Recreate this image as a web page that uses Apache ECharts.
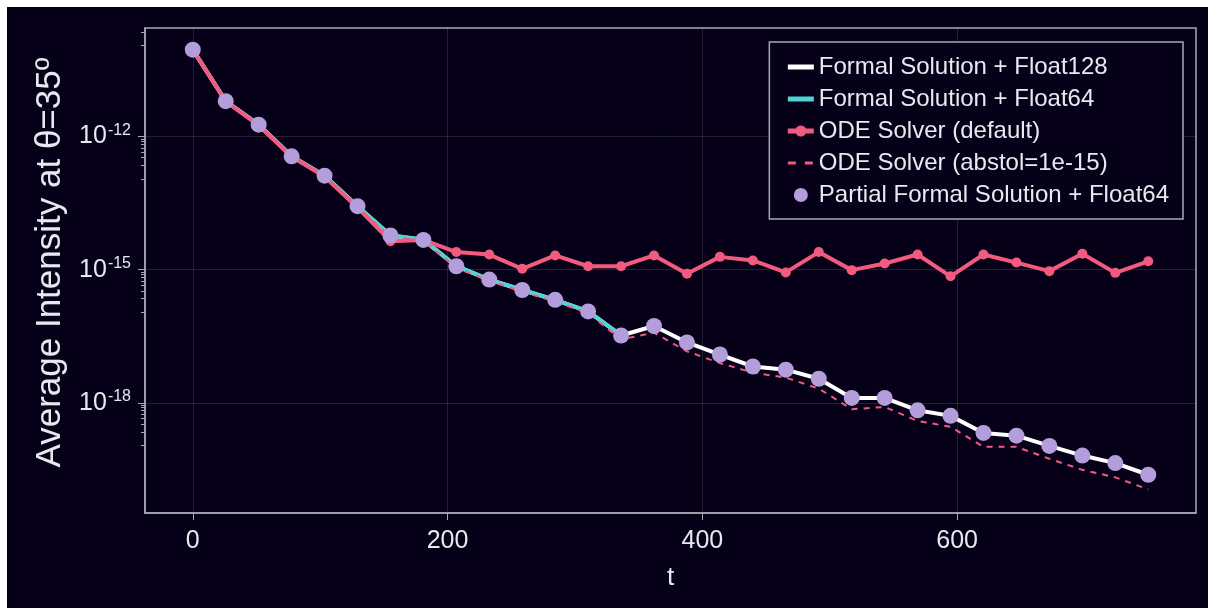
<!DOCTYPE html>
<html>
<head>
<meta charset="utf-8">
<script src="https://cdn.jsdelivr.net/npm/echarts@6/dist/echarts.min.js"></script>
<style>
  html, body { margin: 0; padding: 0; background: #ffffff; }
  #chart { position: absolute; left: 7px; top: 7px; width: 1201px; height: 601px; }
</style>
</head>
<body>
<div id="chart"></div>
<script>
// time samples
var tValues = [0, 25.86, 51.72, 77.59, 103.45, 129.31, 155.17, 181.03, 206.9, 232.76,
  258.62, 284.48, 310.34, 336.21, 362.07, 387.93, 413.79, 439.66, 465.52, 491.38,
  517.24, 543.1, 568.97, 594.83, 620.69, 646.55, 672.41, 698.28, 724.14, 750];

var float128 = [9.1e-11, 6.3e-12, 1.86e-12, 3.6e-13, 1.32e-13, 2.7e-14, 5.9e-15, 4.7e-15, 1.2e-15, 6.0e-16,
  3.5e-16, 2.1e-16, 1.15e-16, 3.3e-17, 5.4e-17, 2.3e-17, 1.23e-17, 6.6e-18, 5.6e-18, 3.5e-18,
  1.29e-18, 1.29e-18, 6.8e-19, 5.1e-19, 2.1e-19, 1.82e-19, 1.07e-19, 6.5e-20, 4.4e-20, 2.4e-20];

// Float64 formal solution stops after t≈336
var float64 = [9.1e-11, 6.3e-12, 1.86e-12, 3.6e-13, 1.32e-13, 2.7e-14, 6.0e-15, 4.8e-15, 1.2e-15, 6.0e-16,
  3.5e-16, 2.1e-16, 1.15e-16, 3.3e-17];

var odeDefault = [9.1e-11, 6.2e-12, 1.78e-12, 3.5e-13, 1.26e-13, 2.5e-14, 4.4e-15, 4.7e-15, 2.5e-15, 2.2e-15,
  1.05e-15, 2.1e-15, 1.2e-15, 1.2e-15, 2.1e-15, 8.1e-16, 1.95e-15, 1.62e-15, 8.7e-16, 2.5e-15,
  9.8e-16, 1.38e-15, 2.2e-15, 7.1e-16, 2.2e-15, 1.45e-15, 9.3e-16, 2.3e-15, 8.5e-16, 1.55e-15];

var odeAbstol = [9.0e-11, 6.2e-12, 1.8e-12, 3.5e-13, 1.28e-13, 2.6e-14, 5.6e-15, 4.5e-15, 1.1e-15, 5.6e-16,
  3.2e-16, 1.9e-16, 1.05e-16, 2.7e-17, 3.8e-17, 1.45e-17, 7.9e-18, 4.8e-18, 3.7e-18, 2.1e-18,
  7.2e-19, 8.1e-19, 3.9e-19, 2.9e-19, 1.02e-19, 1.02e-19, 5.5e-20, 3.1e-20, 2.1e-20, 1.12e-20];

var partial = float128;

var xTicks = [0, 200, 400, 600];
var yTicks = [1e-18, 1e-15, 1e-12];
var yMin = 3.3e-21, yMax = 2.8e-10;

// minor ticks: 8 linear steps between neighbouring major ticks
var yMinorTicks = [];
[1e-21, 1e-18, 1e-15, 1e-12].forEach(function (lo) {
  var hi = lo * 1000;
  for (var k = 1; k < 9; k++) {
    var v = lo + k * (hi - lo) / 9;
    if (v > yMin && v < yMax) yMinorTicks.push(v);
  }
});

function pairs(vals) {
  return vals.map(function (v, i) { return [tValues[i], v]; });
}

var bg = '#060119';
var fg = '#e8e8ee';
var axisGray = '#a9a7b2';
var gridGray = 'rgba(255,255,255,0.12)';
var pink = '#f25a7e';
var font = '"Liberation Sans", "DejaVu Sans", sans-serif';

var chart = echarts.init(document.getElementById('chart'));
chart.setOption({
  backgroundColor: bg,
  animation: false,
  textStyle: { fontFamily: font },
  grid: {
    left: 138, right: 12, top: 21, bottom: 95, containLabel: false,
    show: true, borderColor: axisGray, borderWidth: 1.5, backgroundColor: 'transparent'
  },
  legend: {
    right: 25, top: 35,
    orient: 'vertical',
    backgroundColor: bg,
    borderColor: axisGray,
    borderWidth: 1.5,
    borderRadius: 0,
    padding: [13, 14, 12, 16],
    itemGap: 8,
    itemWidth: 26,
    itemHeight: 14,
    textStyle: { color: fg, fontSize: 24, fontFamily: font },
    data: [
      { name: 'Formal Solution + Float128', itemStyle: { opacity: 0 }, lineStyle: { width: 5 } },
      { name: 'Formal Solution + Float64', itemStyle: { opacity: 0 }, lineStyle: { width: 5 } },
      { name: 'ODE Solver (default)', lineStyle: { width: 5 } },
      { name: 'ODE Solver (abstol=1e-15)', itemStyle: { opacity: 0 }, lineStyle: { width: 3, type: [8, 9] } },
      { name: 'Partial Formal Solution + Float64', icon: 'circle', itemStyle: { color: '#b39ddb' } }
    ]
  },
  xAxis: {
    type: 'value',
    min: -37.5, max: 787.5,
    name: 't',
    nameLocation: 'middle',
    nameGap: 52,
    nameTextStyle: { color: fg, fontSize: 26 },
    axisLine: { show: true, onZero: false, lineStyle: { color: axisGray, width: 1.5 } },
    axisTick: { show: true, customValues: xTicks, length: 7, inside: false, lineStyle: { color: axisGray } },
    axisLabel: { customValues: xTicks, color: fg, fontSize: 25, margin: 16 },
    splitLine: { show: true, lineStyle: { color: gridGray } }
  },
  yAxis: [{
    type: 'log',
    logBase: 10,
    min: yMin, max: yMax,
    name: 'Average Intensity at θ=35º',
    nameLocation: 'middle',
    nameGap: 76,
    nameTextStyle: { color: fg, fontSize: 35, padding: [0, 0, 0, 16] },
    axisLine: { show: true, onZero: false, lineStyle: { color: axisGray, width: 1.5 } },
    axisTick: { show: true, customValues: yTicks, length: 7, lineStyle: { color: axisGray } },
    axisLabel: {
      customValues: yTicks,
      margin: 14,
      formatter: function (v) {
        var e = Math.round(Math.log10(v));
        return '{b|10}{s|' + e + '}';
      },
      rich: {
        b: { color: fg, fontSize: 25, fontFamily: font },
        s: { color: fg, fontSize: 16, fontFamily: font, padding: [0, 0, 12, 1] }
      }
    },
    splitLine: { show: true, lineStyle: { color: gridGray } }
  }, {
    type: 'log',
    logBase: 10,
    min: yMin, max: yMax,
    position: 'left',
    axisLine: { show: false, onZero: false },
    axisTick: { show: true, customValues: yMinorTicks, length: 4, lineStyle: { color: axisGray } },
    axisLabel: { show: false },
    splitLine: { show: false }
  }],
  series: [{
    name: 'Formal Solution + Float128',
    type: 'line',
    data: pairs(float128),
    showSymbol: false, symbol: 'none',
    lineStyle: { color: '#ffffff', width: 4 },
    itemStyle: { color: '#ffffff' },
    z: 2
  }, {
    name: 'Formal Solution + Float64',
    type: 'line',
    data: pairs(float64),
    showSymbol: false, symbol: 'none',
    lineStyle: { color: '#4fd3d4', width: 4 },
    itemStyle: { color: '#4fd3d4' },
    z: 3
  }, {
    name: 'ODE Solver (default)',
    type: 'line',
    data: pairs(odeDefault),
    symbol: 'circle', symbolSize: 10,
    lineStyle: { color: pink, width: 4 },
    itemStyle: { color: pink },
    z: 4
  }, {
    name: 'ODE Solver (abstol=1e-15)',
    type: 'line',
    data: pairs(odeAbstol),
    showSymbol: false, symbol: 'none',
    lineStyle: { color: pink, width: 2, type: [6, 6] },
    itemStyle: { color: pink },
    z: 5
  }, {
    name: 'Partial Formal Solution + Float64',
    type: 'scatter',
    data: pairs(partial),
    symbolSize: 16,
    itemStyle: { color: '#b39ddb', opacity: 1 },
    z: 6
  }]
});
</script>
</body>
</html>
